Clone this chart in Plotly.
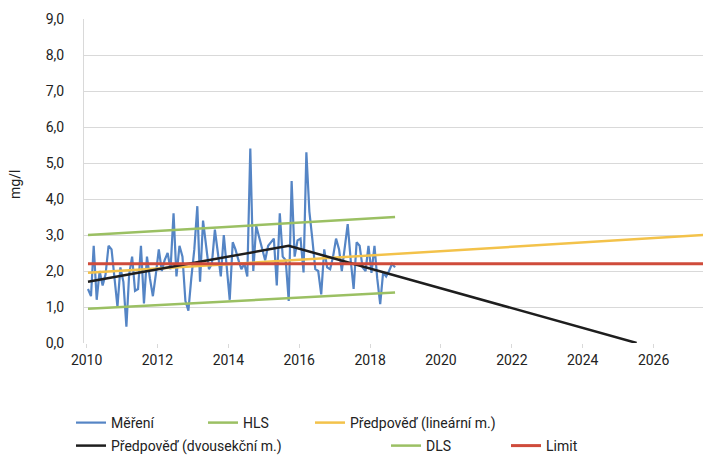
import plotly.graph_objects as go
import pandas as pd

# Monthly measurements (mg/l), Jan 2010 - Sep 2018
mereni = [
    1.5, 1.3, 2.7, 1.2, 2.0, 1.6, 1.9, 2.7, 2.6, 1.7, 1.0, 2.1,
    1.7, 0.45, 1.9, 2.4, 1.45, 1.5, 2.7, 1.1, 2.4, 1.8, 1.3, 1.9,
    2.6, 2.0, 2.3, 2.5, 2.05, 3.6, 1.85, 2.7, 2.4, 1.17, 0.9, 1.8,
    2.6, 3.8, 1.7, 3.4, 2.7, 2.05, 2.2, 3.15, 2.5, 1.85, 3.0, 2.2,
    1.2, 2.8, 2.6, 2.3, 2.05, 2.2, 1.85, 5.4, 2.0, 3.25, 2.95, 2.6,
    2.3, 2.7, 2.8, 2.9, 1.6, 3.6, 2.4, 2.3, 1.17, 4.5, 2.4, 2.85,
    2.9, 1.96, 5.3, 3.65, 2.9, 2.05, 2.0, 1.35, 2.6, 2.1, 2.05, 2.4,
    2.9, 2.6, 2.0, 2.6, 3.3, 2.3, 1.5, 2.8, 2.7, 2.1, 2.0, 2.7,
    1.95, 2.7, 1.8, 1.08, 1.96, 1.85, 2.0, 2.2, 2.1,
]
mereni_dates = pd.date_range("2010-01-01", periods=len(mereni), freq="MS") + pd.Timedelta(days=14)

hls_x = ["2010-01-15", "2018-09-15"]
hls_y = [3.0, 3.5]
dls_x = ["2010-01-15", "2018-09-15"]
dls_y = [0.95, 1.4]
lin_x = ["2010-01-15", "2027-06-01"]
lin_y = [1.95, 3.0]
dvou_x = ["2010-01-15", "2015-09-15", "2025-07-10"]
dvou_y = [1.7, 2.7, 0.0]
limit_x = ["2010-01-15", "2027-06-01"]
limit_y = [2.2, 2.2]

tick_years = [2010, 2012, 2014, 2016, 2018, 2020, 2022, 2024, 2026]
y_ticks = [0, 1, 2, 3, 4, 5, 6, 7, 8, 9]

FONT = "Roboto"
W, H = 703, 458
L, R, T, B = 84, 0, 19, 115
PW = W - L - R
PH = H - T - B


fig = go.Figure()
fig.add_trace(go.Scatter(x=mereni_dates, y=mereni, mode="lines", name="Měření",
                         line=dict(color="#5585C5", width=2.2), legend="legend"))
fig.add_trace(go.Scatter(x=hls_x, y=hls_y, mode="lines", name="HLS",
                         line=dict(color="#9BC063", width=2.5), legend="legend2"))
fig.add_trace(go.Scatter(x=lin_x, y=lin_y, mode="lines", name="Předpověď (lineární m.)",
                         line=dict(color="#F3C24A", width=2.5), legend="legend3"))
fig.add_trace(go.Scatter(x=dvou_x, y=dvou_y, mode="lines", name="Předpověď (dvousekční m.)",
                         line=dict(color="#1E1E1E", width=2.5), legend="legend4"))
fig.add_trace(go.Scatter(x=dls_x, y=dls_y, mode="lines", name="DLS",
                         line=dict(color="#9BC063", width=2.5), legend="legend5"))
fig.add_trace(go.Scatter(x=limit_x, y=limit_y, mode="lines", name="Limit",
                         line=dict(color="#CF4B3B", width=3), legend="legend6"))


def leg(px, py):
    return dict(x=px / W, y=1 - py / H, xref="container", yref="container",
                xanchor="left", yanchor="middle",
                orientation="h", bgcolor="rgba(0,0,0,0)",
                font=dict(family=FONT, size=14, color="#222222"))


layout_legends = {
    "legend": leg(71, 423),
    "legend2": leg(203, 423),
    "legend3": leg(310, 423),
    "legend4": leg(71, 446),
    "legend5": leg(386, 446),
    "legend6": leg(506, 446),
}

fig.update_layout(
    width=W, height=H,
    margin=dict(l=L, r=R, t=T, b=B, autoexpand=False),
    paper_bgcolor="white", plot_bgcolor="white",
    separators=",.",
    font=dict(family=FONT, size=14, color="#222222"),
    showlegend=True,
    **layout_legends,
)
fig.update_xaxes(
    type="date",
    automargin=False,
    range=["2009-12-05", "2027-05-25"],
    tickvals=[f"{y}-01-01" for y in tick_years],
    ticktext=[str(y) for y in tick_years],
    showgrid=False, zeroline=False,
    showline=False,
    ticks="outside", ticklen=4, tickcolor="#d9d9d9",
    tickfont=dict(family=FONT, size=14, color="#222222"),
)
fig.update_yaxes(
    automargin=False,
    range=[0, 9],
    tickvals=y_ticks,
    tickformat=".1f",
    showgrid=True, gridcolor="#d9d9d9", gridwidth=1,
    zeroline=False,
    showline=True, linecolor="#d9d9d9", linewidth=1,
    ticks="", ticklabelstandoff=16,
    tickfont=dict(family=FONT, size=14, color="#222222"),
)
fig.add_annotation(text="mg/l", xref="paper", yref="paper",
                   x=(15 - L) / PW, y=(H - B - 185) / PH,
                   xanchor="center", yanchor="middle",
                   textangle=-90, showarrow=False,
                   font=dict(family=FONT, size=14, color="#222222"))

fig.write_html(
    "out.html",
    config={"displayModeBar": False},
    post_script="document.body.style.margin='0';document.body.style.overflow='hidden';",
)
